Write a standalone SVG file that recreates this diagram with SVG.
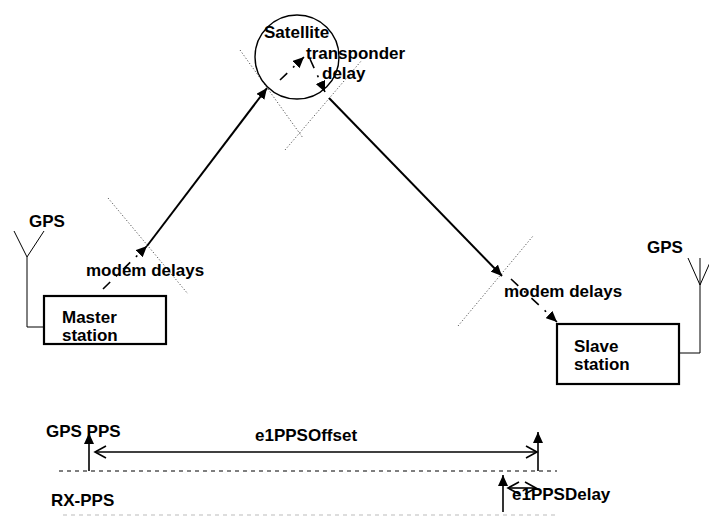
<svg xmlns="http://www.w3.org/2000/svg" width="709" height="516" viewBox="0 0 709 516">
<style>
text{font-family:"Liberation Sans",Arial,sans-serif;font-weight:bold;font-size:17px;fill:#000}
.box{fill:#fff;stroke:#000;stroke-width:2.2}
.ant{fill:none;stroke:#000;stroke-width:1}
.dot{fill:none;stroke:#555;stroke-width:1;stroke-dasharray:1.2,2}
.solid{fill:none;stroke:#000;stroke-width:2}
.dd{fill:none;stroke:#000;stroke-width:1.6;stroke-dasharray:10,8,2,8}
.dash{fill:none;stroke:#000;stroke-width:1.2;stroke-dasharray:4,4}
.dashg{fill:none;stroke:#bbb;stroke-width:1.2;stroke-dasharray:4,4}
.thin{fill:none;stroke:#000;stroke-width:1.6}
</style>
<defs>
<marker id="ah" markerUnits="userSpaceOnUse" markerWidth="12" markerHeight="10" refX="11" refY="5" orient="auto"><path d="M0,0 L11,5 L0,10 z" fill="#000"/></marker>
<marker id="oh" markerUnits="userSpaceOnUse" markerWidth="14" markerHeight="14" refX="12" refY="7" orient="auto-start-reverse"><path d="M1,1 L12,7 L1,13" fill="none" stroke="#000" stroke-width="1.6"/></marker>
</defs>

<g id="dotted-lines">
<line class="dot" x1="240" y1="50" x2="303" y2="138"/>
<line class="dot" x1="285" y1="150" x2="362" y2="60"/>
<line class="dot" x1="108" y1="198" x2="188" y2="294"/>
<line class="dot" x1="458" y1="326" x2="533" y2="236"/>
</g>

<g id="satellite">
<circle cx="297" cy="57" r="42" fill="none" stroke="#000" stroke-width="1.4"/>
<text x="264" y="38">Satellite</text>
<text x="306" y="59">transponder</text>
<text x="322" y="79">delay</text>
</g>

<g id="master">
<rect class="box" x="44" y="296" width="122" height="48"/>
<text x="62" y="323">Master</text>
<text x="62" y="341">station</text>
<polyline class="ant" points="14,231 27,257 44,231"/>
<polyline class="ant" points="27,257 27,327 44,327"/>
<text x="29" y="227">GPS</text>
</g>

<g id="slave">
<rect class="box" x="557" y="324" width="122" height="60"/>
<text x="574" y="352">Slave</text>
<text x="574" y="370">station</text>
<polyline class="ant" points="688,258 700,285 712,258"/>
<polyline class="ant" points="700,258 700,353 679,353"/>
<text x="647" y="253">GPS</text>
</g>

<g id="connectors">
<line class="dd" x1="103" y1="289" x2="147" y2="246" marker-end="url(#ah)"/>
<line class="solid" x1="147" y1="246" x2="267" y2="88" marker-end="url(#ah)"/>
<line class="dd" x1="280" y1="80" x2="304" y2="57" marker-end="url(#ah)"/>
<line class="dd" x1="310" y1="59" x2="325" y2="92" marker-end="url(#ah)"/>
<line class="solid" x1="329" y1="98" x2="502" y2="276" marker-end="url(#ah)"/>
<line class="dd" x1="511" y1="279" x2="557" y2="322" marker-end="url(#ah)"/>
</g>

<text x="86" y="276">modem delays</text>
<text x="504" y="297">modem delays</text>

<g id="timing">
<line class="dash" x1="59" y1="471" x2="557" y2="471"/>
<line class="dashg" x1="63" y1="515" x2="557" y2="515"/>
<text x="46" y="437">GPS PPS</text>
<text x="51" y="506">RX-PPS</text>
<line class="thin" x1="89" y1="471" x2="89" y2="433" marker-end="url(#ah)"/>
<line class="thin" x1="538" y1="471" x2="538" y2="432" marker-end="url(#ah)"/>
<line class="thin" x1="503" y1="512" x2="503" y2="475" marker-end="url(#ah)"/>
<line class="thin" x1="95" y1="452" x2="537" y2="452" marker-start="url(#oh)" marker-end="url(#oh)"/>
<text x="255" y="441">e1PPSOffset</text>
<line class="thin" x1="508" y1="488" x2="536" y2="488" marker-start="url(#oh)" marker-end="url(#oh)"/>
<text x="512" y="500">e1PPSDelay</text>
</g>
</svg>
